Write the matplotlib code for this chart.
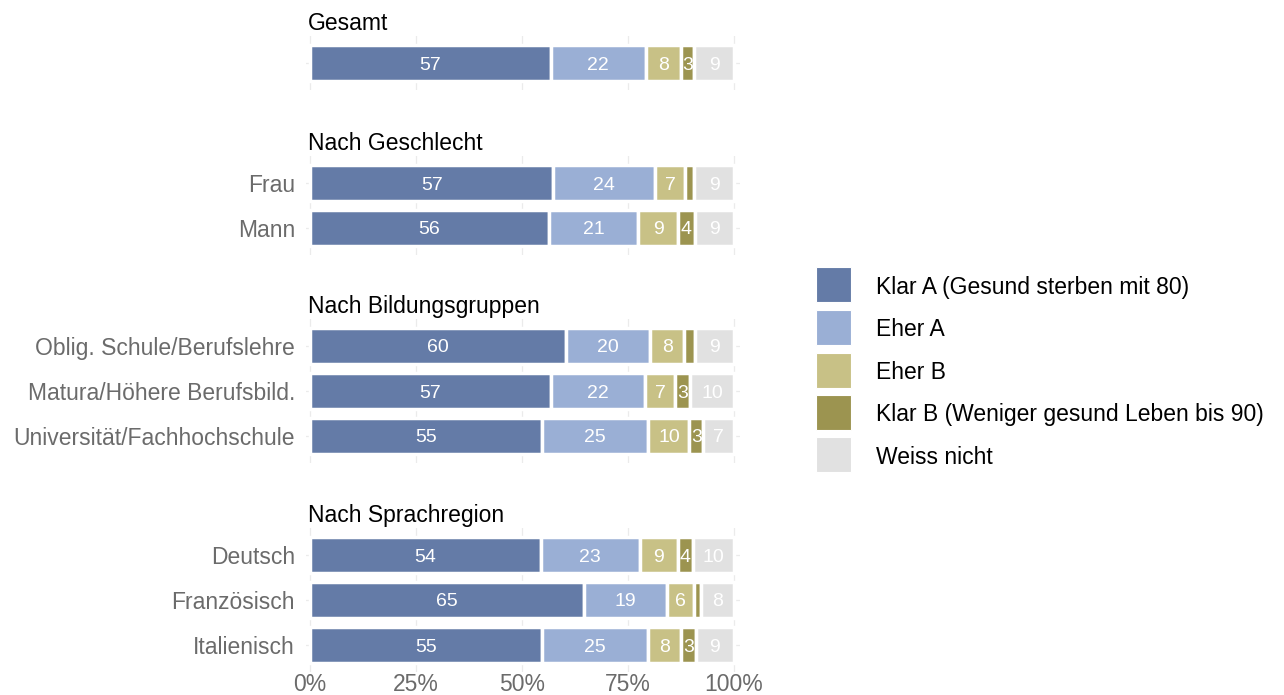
import matplotlib
matplotlib.use("Agg")
import matplotlib.pyplot as plt
from matplotlib.patches import Rectangle
import numpy as np

plt.rcParams['font.family'] = ['Liberation Sans', 'DejaVu Sans']

# ---------------- data ----------------
categories = ["Klar A (Gesund sterben mit 80)", "Eher A", "Eher B",
              "Klar B (Weniger gesund Leben bis 90)", "Weiss nicht"]
colors = ["#647BA7", "#9AAFD5", "#C8C186", "#9C9450", "#E1E1E1"]

panel_titles = ["Gesamt", "Nach Geschlecht", "Nach Bildungsgruppen", "Nach Sprachregion"]

gesamt_rows = [""]
gesamt_vals = [[56.8, 22.4, 8.2, 3.2, 9.4]]

geschlecht_rows = ["Frau", "Mann"]
geschlecht_vals = [[57.4, 23.9, 7.2, 2.1, 9.4],
                   [56.4, 21.0, 9.4, 3.9, 9.3]]

bildung_rows = ["Oblig. Schule/Berufslehre", "Matura/Höhere Berufsbild.",
                "Universität/Fachhochschule"]
bildung_vals = [[60.4, 19.8, 8.1, 2.4, 9.3],
                [56.8, 22.2, 7.2, 3.4, 10.4],
                [54.6, 25.2, 9.7, 3.2, 7.3]]

sprach_rows = ["Deutsch", "Französisch", "Italienisch"]
sprach_vals = [[54.4, 23.4, 8.9, 3.7, 9.6],
                [64.7, 19.4, 6.4, 1.6, 7.9],
                [54.6, 25.0, 8.0, 3.4, 9.0]]

x_ticks = [0, 25, 50, 75, 100]
x_ticklabels = ["0%", "25%", "50%", "75%", "100%"]

panels = [(gesamt_rows, gesamt_vals), (geschlecht_rows, geschlecht_vals),
          (bildung_rows, bildung_vals), (sprach_rows, sprach_vals)]

# ---------------- layout ----------------
W, H = 1284, 695
fig = plt.figure(figsize=(W / 100, H / 100), dpi=100)

panel_tops = [36, 156, 319, 528]
PPU = 45.0
LEFT_PX, RIGHT_PX = 306, 740
FS = 16.5
TICK_COLOR = "#6b6b6b"
GRID_COLOR = "#ebebeb"

for pi, ((rows, vals), title, top) in enumerate(zip(panels, panel_titles, panel_tops)):
    n = len(rows)
    hpx = (n - 1 + 1.2) * PPU
    bottom = top + hpx
    ax = fig.add_axes([LEFT_PX / W, 1 - bottom / H, (RIGHT_PX - LEFT_PX) / W, hpx / H])
    vals = np.array(vals)
    y = np.arange(n)
    left = np.zeros(n)
    for ci in range(len(categories)):
        v = vals[:, ci]
        ax.barh(y, v, left=left, height=0.82, color=colors[ci],
                edgecolor="white", linewidth=2.5, zorder=2)
        for yi in range(n):
            if v[yi] >= 2.5:
                ax.text(left[yi] + v[yi] / 2, y[yi], f"{v[yi]:.0f}",
                        ha="center", va="center_baseline", color="white",
                        fontsize=14, zorder=3)
        left = left + v
    ax.set_xlim(-4 / 4.24, 100 + 6 / 4.24)
    ax.set_ylim(n - 1 + 0.6, -0.6)
    ax.set_yticks(y)
    ax.set_yticklabels(rows, fontsize=FS, color=TICK_COLOR)
    ax.set_xticks(x_ticks)
    if pi == len(panels) - 1:
        ax.set_xticklabels(x_ticklabels, fontsize=FS, color=TICK_COLOR)
    else:
        ax.set_xticklabels([])
    ax.tick_params(axis="both", length=0)
    ax.tick_params(axis="y", pad=8)
    ax.tick_params(axis="x", pad=1)
    for s in ax.spines.values():
        s.set_visible(False)
    ax.grid(True, color=GRID_COLOR, linewidth=0.9, zorder=0)
    ax.set_axisbelow(True)
    fig.text(308 / W, 1 - (top - 6) / H, title, fontsize=FS, color="black",
             ha="left", va="baseline")

# ---------------- legend ----------------
leg = fig.add_axes([0, 0, 1, 1], zorder=-1)
leg.set_xlim(0, W)
leg.set_ylim(H, 0)
leg.axis("off")
leg_centers = [284.8, 327.2, 370.0, 412.3, 454.7]
for cat, col, cy in zip(categories, colors, leg_centers):
    leg.add_patch(Rectangle((816, cy - 17.5), 35, 35, facecolor=col,
                            edgecolor="white", linewidth=0.8))
    leg.text(876, cy, cat, fontsize=FS, color="black", ha="left",
             va="center_baseline")

fig.savefig("out.png", dpi=100, facecolor="white")
